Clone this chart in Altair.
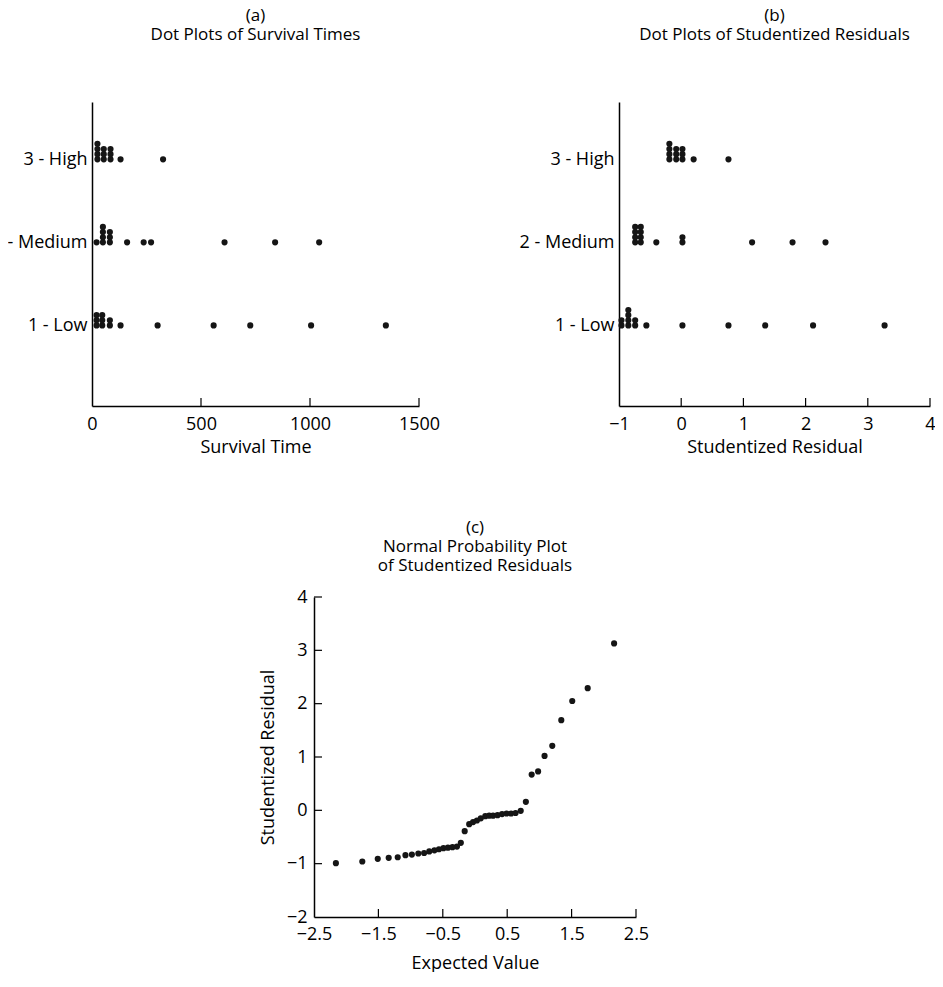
import altair as alt
import pandas as pd

FONT = "Open Sans"

# ---------------- data ----------------
groups = ["1 - Low", "2 - Medium", "3 - High"]
group_levels = [1, 2, 3]

# (a) survival times, values read per dot (identical values stack in the dot plot)
surv_low = [21, 21, 21, 47, 47, 47, 82, 82, 131, 301, 558, 726, 1005, 1348]
surv_med = [21, 50, 50, 50, 50, 82, 82, 82, 161, 237, 271, 608, 840, 1042]
surv_high = [25, 25, 25, 25, 54, 54, 54, 85, 85, 85, 131, 326]

# (b) studentized residuals
res_low = [-0.96, -0.96, -0.85, -0.85, -0.85, -0.85, -0.74, -0.74,
           -0.56, 0.02, 0.76, 1.35, 2.12, 3.27]
res_med = [-0.74, -0.74, -0.74, -0.74, -0.65, -0.65, -0.65, -0.65,
           -0.40, 0.02, 0.02, 1.14, 1.79, 2.32]
res_high = [-0.19, -0.19, -0.19, -0.19, -0.08, -0.08, -0.08, 0.02, 0.02, 0.02,
            0.20, 0.76]

# (c) normal probability plot
npp_expected = [-2.16, -1.75, -1.51, -1.34, -1.20, -1.08, -0.98, -0.88, -0.79, -0.71,
                -0.63, -0.56, -0.49, -0.42, -0.35, -0.28, -0.22, -0.16, -0.09, -0.03,
                0.03, 0.09, 0.16, 0.22, 0.28, 0.35, 0.42, 0.49, 0.56, 0.63,
                0.71, 0.79, 0.88, 0.98, 1.08, 1.20, 1.34, 1.51, 1.75, 2.16]
npp_resid = [-0.99, -0.96, -0.91, -0.89, -0.88, -0.84, -0.83, -0.81, -0.80, -0.77,
             -0.75, -0.73, -0.71, -0.70, -0.69, -0.68, -0.61, -0.39, -0.26, -0.22,
             -0.19, -0.15, -0.11, -0.10, -0.10, -0.09, -0.07, -0.06, -0.06, -0.05,
             -0.01, 0.16, 0.67, 0.73, 1.02, 1.21, 1.69, 2.05, 2.29, 3.13]

a_ticks = [0, 500, 1000, 1500]
b_ticks = [-1, 0, 1, 2, 3, 4]
c_xticks = [-2.5, -1.5, -0.5, 0.5, 1.5, 2.5]
c_yticks = [-2, -1, 0, 1, 2, 3, 4]

# ---------------- helpers ----------------
def dot_frame(lists, field):
    rows = []
    for g, lv, vals in zip(groups, group_levels, lists):
        for v in vals:
            rows.append({"group": g, "level": lv, field: v})
    return pd.DataFrame(rows)

label_expr = " : ".join(
    f"datum.value == {lv} ? '{g}'" for lv, g in zip(group_levels[:-1], groups[:-1])
) + f" : '{groups[-1]}'"

DOT = dict(filled=True, color="#151515", size=38, opacity=1)
TITLE = dict(fontSize=17, fontWeight="normal", font=FONT, anchor="middle",
             lineHeight=19, color="black")
AX = dict(labelFont=FONT, titleFont=FONT, labelFontSize=18, titleFontSize=18,
          titleFontWeight="normal", labelColor="black", titleColor="black",
          domainColor="black", domainWidth=1.5, grid=False, ticks=False)
YDOM = [0.03, 3.69]
DOTH = 304
STEP = 0.062


def dot_panel(df, field, domain, width, ticks, title_lines, xtitle, fmt):
    xscale = alt.Scale(domain=domain, nice=False, zero=False)
    yscale = alt.Scale(domain=YDOM, nice=False, zero=False)
    pts = alt.Chart(df).transform_window(
        stack="row_number()", groupby=["group", field]
    ).transform_calculate(
        ypos=f"datum.level + (datum.stack - 1) * {STEP}"
    ).mark_point(**DOT).encode(
        x=alt.X(f"{field}:Q", scale=xscale,
                axis=alt.Axis(values=ticks, format=fmt, labelFlush=False,
                              labelPadding=9, title=xtitle, titlePadding=5, **AX)),
        y=alt.Y("ypos:Q", scale=yscale,
                axis=alt.Axis(values=group_levels, labelExpr=label_expr,
                              title=None, labelPadding=5, **AX)),
    )
    tk = alt.Chart(pd.DataFrame({"t": ticks[1:]})).mark_rule(
        color="black", strokeWidth=1.2
    ).encode(
        x=alt.X("t:Q", scale=xscale),
        y=alt.value(DOTH), y2=alt.value(DOTH - 8),
    )
    return alt.layer(pts, tk).properties(
        width=width, height=DOTH,
        title=alt.TitleParams(text=title_lines, offset=58, **TITLE),
    )


df_a = dot_frame([surv_low, surv_med, surv_high], "time")
df_b = dot_frame([res_low, res_med, res_high], "resid")

panel_a = dot_panel(df_a, "time", [0, 1500], 327, a_ticks,
                    ["(a)", "Dot Plots of Survival Times"], "Survival Time", "d")
panel_b = dot_panel(df_b, "resid", [-1, 4], 311, b_ticks,
                    ["(b)", "Dot Plots of Studentized Residuals"],
                    "Studentized Residual", "d")

# ---------------- panel c ----------------
CW, CH = 322, 320
cx = alt.Scale(domain=[-2.5, 2.5], nice=False, zero=False)
cy = alt.Scale(domain=[-2, 4], nice=False, zero=False)
df_c = pd.DataFrame({"expected": npp_expected, "resid": npp_resid})
pts_c = alt.Chart(df_c).mark_point(**DOT).encode(
    x=alt.X("expected:Q", scale=cx,
            axis=alt.Axis(values=c_xticks, format=".1f", labelFlush=False,
                          labelPadding=8, title="Expected Value", titlePadding=11, **AX)),
    y=alt.Y("resid:Q", scale=cy,
            axis=alt.Axis(values=c_yticks, format="d", labelPadding=7,
                          title="Studentized Residual", titlePadding=9, **AX)),
)
xt_c = alt.Chart(pd.DataFrame({"t": c_xticks[1:]})).mark_rule(
    color="black", strokeWidth=1.2
).encode(x=alt.X("t:Q", scale=cx), y=alt.value(CH), y2=alt.value(CH - 8))
yt_c = alt.Chart(pd.DataFrame({"t": c_yticks[1:]})).mark_rule(
    color="black", strokeWidth=1.2
).encode(y=alt.Y("t:Q", scale=cy), x=alt.value(0), x2=alt.value(8))
panel_c = alt.layer(pts_c, xt_c, yt_c).properties(
    width=CW, height=CH,
    title=alt.TitleParams(
        text=["(c)", "Normal Probability Plot", "of Studentized Residuals"],
        offset=13, **TITLE),
)

# invisible spacer that places panel (c) under the middle of the page
spacer = alt.Chart(pd.DataFrame({"s": [0]})).mark_point(opacity=0).encode(
    x=alt.X("s:Q", axis=None), y=alt.Y("s:Q", axis=None)
).properties(width=167, height=1)

top = alt.hconcat(panel_a, panel_b, spacing=79)
bottom = alt.hconcat(spacer, panel_c, spacing=0)
chart = alt.vconcat(top, bottom, spacing=63).properties(
    padding={"left": -16, "top": -1, "right": -1, "bottom": 0},
    background="white",
).configure_view(stroke=None)

chart.save("out.html", embed_options={"renderer": "svg", "actions": False})
